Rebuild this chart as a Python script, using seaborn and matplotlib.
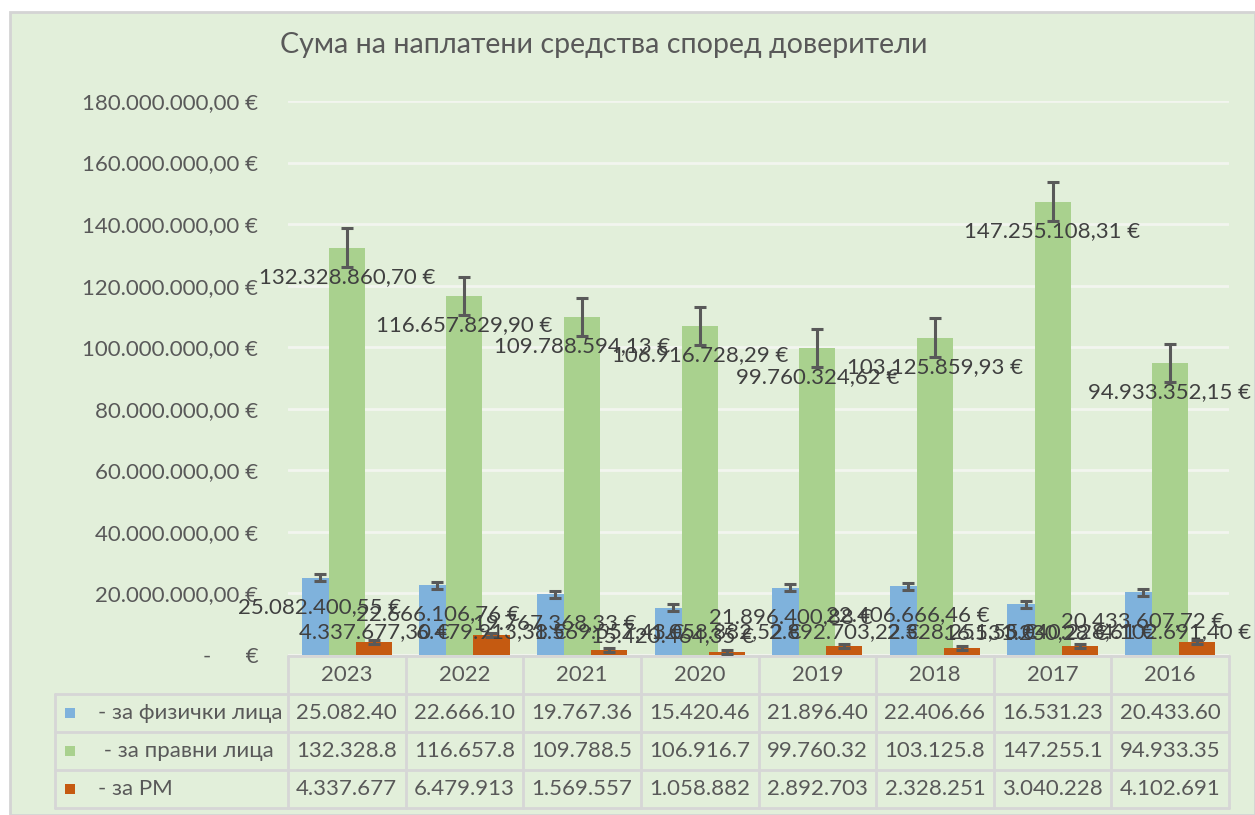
import numpy as np
import pandas as pd
import matplotlib
matplotlib.use("Agg")
import matplotlib.pyplot as plt
import matplotlib.ticker as mticker
from matplotlib.patches import Rectangle
from matplotlib.lines import Line2D
import seaborn as sns

# ---------------- data ----------------
years = ["2023", "2022", "2021", "2020", "2019", "2018", "2017", "2016"]
series_names = ["- за физички лица", " - за правни лица", "- за РМ"]
fizicki = [25082400.55, 22666106.76, 19767368.33, 15420464.35, 21896400.88, 22406666.46, 16531230.28, 20433607.72]
pravni = [132328860.70, 116657829.90, 109788594.13, 106916728.29, 99760324.62, 103125859.93, 147255108.31, 94933352.15]
rm = [4337677.30, 6479913.38, 1569557.43, 1058882.52, 2892703.22, 2328251.55, 3040228.61, 4102691.40]
table_fizicki = ["25.082.40", "22.666.10", "19.767.36", "15.420.46", "21.896.40", "22.406.66", "16.531.23", "20.433.60"]
table_pravni = ["132.328.8", "116.657.8", "109.788.5", "106.916.7", "99.760.32", "103.125.8", "147.255.1", "94.933.35"]
table_rm = ["4.337.677", "6.479.913", "1.569.557", "1.058.882", "2.892.703", "2.328.251", "3.040.228", "4.102.691"]
title = "Сума на наплатени средства според доверители"

colors = ["#7FB2DC", "#A9D18E", "#C55A11"]
BG = "#E2EFDA"
TXT = "#595959"
LBL = "#404040"

sns.set_style("white")
plt.rcParams["font.family"] = ["Lato", "Noto Sans", "DejaVu Sans"]

W, H = 1255, 815
fig = plt.figure(figsize=(W / 100, H / 100), dpi=100, facecolor="white")

# background / overlay axes in pixel coords
bg = fig.add_axes([0, 0, 1, 1])
bg.set_xlim(0, W)
bg.set_ylim(H, 0)
bg.axis("off")
bg.add_patch(Rectangle((10, 12), W - 10, H - 12, facecolor=BG, edgecolor="#D4D4D4", lw=2))

L, R, B, T = 288, 1229, 655, 101
ax = fig.add_axes([L / W, 1 - B / H, (R - L) / W, (B - T) / H])
ax.set_facecolor("none")

def fmt_eur(v):
    if v == 0:
        return "-      €"
    s = f"{v:,.2f}"
    s = s.replace(",", "X").replace(".", ",").replace("X", ".")
    return s + " €"

pos = np.arange(len(years))
bar_w = 0.307
step = 0.23
all_series = [fizicki, pravni, rm]
offsets = [-step, 0.0, step]

for vals, off, c in zip(all_series, offsets, colors):
    sns.barplot(x=pos + off, y=vals, native_scale=True, width=bar_w, color=c,
                saturation=1, errorbar=None, linewidth=0, ax=ax, zorder=2)

# standard error bars (Excel "Standard Error")
for vals, off in zip(all_series, offsets):
    v = np.array(vals)
    se = v.std(ddof=1) / np.sqrt(len(v))
    ax.errorbar(pos + off, v, yerr=se, fmt="none", ecolor="#595959",
                elinewidth=2.2, capsize=4, capthick=2.2, zorder=3)

# data labels
labels = []
for i in range(len(years)):
    labels.append(ax.annotate(fmt_eur(fizicki[i]), (pos[i] + offsets[0], fizicki[i]), xytext=(0, -29),
                textcoords="offset pixels", ha="center", va="center", fontsize=16, color=LBL, zorder=5))
    labels.append(ax.annotate(fmt_eur(pravni[i]), (pos[i] + offsets[1], pravni[i]), xytext=(0, -29),
                textcoords="offset pixels", ha="center", va="center", fontsize=16, color=LBL, zorder=5))
    labels.append(ax.annotate(fmt_eur(rm[i]), (pos[i] + offsets[2], 0), xytext=(0, 23),
                textcoords="offset pixels", ha="center", va="center", fontsize=16, color=LBL, zorder=5))

ax.set_xlim(-0.5, len(years) - 0.5)
ax.set_ylim(0, 180e6)
ax.yaxis.set_major_locator(mticker.MultipleLocator(20e6))
ax.yaxis.set_major_formatter(mticker.FuncFormatter(lambda v, p: fmt_eur(v)))
ax.tick_params(axis="y", length=0, pad=21.5, labelsize=16, labelcolor=TXT)
ax.set_xticks([])
ax.set_xlabel("")
ax.set_ylabel("")
ax.grid(axis="y", color="#F2F5EF", lw=2, zorder=0)
ax.set_axisbelow(True)
for s in ax.spines.values():
    s.set_visible(False)

# title
fig.text(280 / W, 1 - 45 / H, title, ha="left", va="center", fontsize=20.6, color=TXT)

# ---------------- data table ----------------
LINE = "#D6D6D6"
rows_y = [656, 694, 732, 770, 808]
table_left = 55
colw = (R - L) / len(years)
col_x = [L + k * colw for k in range(len(years) + 1)]
bg.add_line(Line2D([L, R], [rows_y[0]] * 2, color=LINE, lw=2))
for yv in rows_y[1:]:
    bg.add_line(Line2D([table_left, R], [yv] * 2, color=LINE, lw=2))
for xv in col_x:
    bg.add_line(Line2D([xv, xv], [rows_y[0], rows_y[-1]], color=LINE, lw=2))
bg.add_line(Line2D([table_left, table_left], [rows_y[1], rows_y[-1]], color=LINE, lw=2))

for k, yr in enumerate(years):
    bg.text(col_x[k] + colw / 2, (rows_y[0] + rows_y[1]) / 2, yr, ha="center", va="center",
            fontsize=16, color=TXT)
for r, (name, cells, c) in enumerate(zip(series_names, [table_fizicki, table_pravni, table_rm], colors)):
    yc = (rows_y[r + 1] + rows_y[r + 2]) / 2
    bg.add_patch(Rectangle((65, yc - 5), 10, 10, facecolor=c, edgecolor="none"))
    bg.text(98, yc, name, ha="left", va="center", fontsize=16, color=TXT)
    for k, cell in enumerate(cells):
        bg.text(col_x[k] + colw / 2, yc, cell, ha="center", va="center", fontsize=16, color=TXT)

# keep data labels inside the chart area (as Excel does)
fig.canvas.draw()
renderer = fig.canvas.get_renderer()
for lab in labels:
    bb = lab.get_window_extent(renderer)
    excess = bb.x1 - (W - 4)
    if excess > 0:
        ox, oy = lab.xyann
        lab.xyann = (ox - excess, oy)

fig.savefig("out.png", dpi=100, facecolor="white")
